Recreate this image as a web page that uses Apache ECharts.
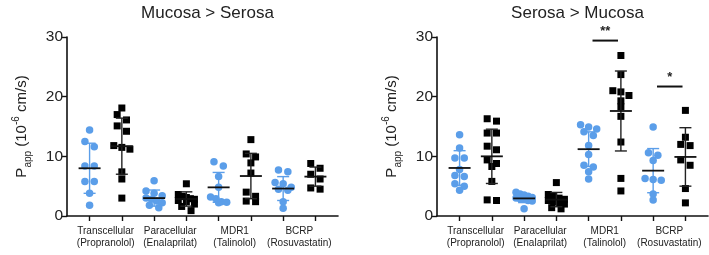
<!DOCTYPE html>
<html>
<head>
<meta charset="utf-8">
<script src="https://cdn.jsdelivr.net/npm/echarts@6/dist/echarts.min.js"></script>
<style>
  html, body { margin: 0; padding: 0; background: #fff; }
  #chart { width: 709px; height: 255px; }
</style>
</head>
<body>
<div id="chart"></div>
<script>
const panelTitles = ['Mucosa > Serosa', 'Serosa > Mucosa'];
const transporters = ['Transcellular\n(Propranolol)', 'Paracellular\n(Enalaprilat)', 'MDR1\n(Talinolol)', 'BCRP\n(Rosuvastatin)'];
const yTicks = [0, 10, 20, 30];

// Mucosa > Serosa, per group (blue circles / black squares)
const msTransBlue = [14.4, 12.5, 11.6, 8.4, 8.4, 5.8, 5.8, 3.8, 1.8];
const msTransBlack = [18.1, 17.0, 16.1, 15.1, 14.2, 11.8, 11.5, 11.2, 7.4, 6.2, 3.0];
const msParaBlue = [5.9, 4.2, 3.8, 3.4, 3.0, 2.8, 2.5, 2.2, 1.8, 1.4];
const msParaBlack = [5.4, 3.6, 3.3, 3.1, 2.9, 2.8, 2.6, 2.4, 2.0, 1.6, 0.9];
const msMdrBlue = [9.1, 8.4, 6.6, 4.8, 3.2, 2.9, 2.4, 2.3, 2.2];
const msMdrBlack = [12.8, 10.4, 9.9, 8.9, 7.2, 4.0, 3.3, 2.5, 2.4];
const msBcrpBlue = [7.7, 7.4, 5.6, 5.4, 4.8, 4.5, 4.3, 2.4, 1.3];
const msBcrpBlack = [8.8, 8.0, 7.0, 6.2, 4.7, 4.5];
const msMean = [8.0, 11.7, 3.0, 2.85, 4.8, 6.7, 4.6, 6.6];
const msSd = [4.2, 4.7, 1.35, 1.2, 2.5, 3.8, 2.0, 1.6];

// Serosa > Mucosa
const smTransBlue = [13.6, 11.4, 9.7, 9.7, 7.8, 6.8, 6.6, 5.4, 5.0, 4.3];
const smTransBlack = [16.3, 15.9, 13.9, 13.9, 11.7, 11.1, 9.4, 8.8, 8.3, 5.8, 2.7, 2.6];
const smParaBlue = [4.0, 3.7, 3.5, 3.3, 3.1, 3.0, 2.9, 2.8, 2.6, 2.5, 1.2];
const smParaBlack = [5.6, 3.6, 3.3, 3.0, 2.8, 2.6, 2.4, 2.1, 2.0, 1.4, 1.2];
const smMdrBlue = [15.3, 14.9, 14.6, 14.1, 13.5, 11.8, 10.3, 8.5, 8.2, 7.4, 6.2];
const smMdrBlack = [26.9, 23.7, 21.0, 20.8, 20.2, 19.3, 18.3, 16.7, 12.4, 6.3, 4.2];
const smBcrpBlue = [14.9, 10.6, 10.2, 9.3, 6.3, 6.1, 6.0, 3.7, 2.7];
const smBcrpBlack = [17.7, 13.2, 12.0, 11.8, 9.4, 8.5, 4.6, 2.2];
const smMean = [8.05, 10.0, 2.95, 2.75, 11.2, 17.6, 7.6, 9.9];
const smSd = [2.9, 4.55, 0.7, 1.2, 2.9, 6.7, 3.7, 4.9];

// significance bars on the right panel: [from group, to group, y, text]
const smSig = [[4, 5, 29.4, '**'], [6, 7, 21.7, '*']];

const BLUE = '#5b9ee9';
const FONT = 'Liberation Sans, Arial, sans-serif';

// GraphPad-like scatter: values that sit within one marker height share a row,
// and each row is spread symmetrically around the group centre
function swarm(values, gx) {
  const rowTol = 0.95;
  const out = [];
  let i = 0;
  while (i < values.length) {
    let j = i + 1;
    while (j < values.length && Math.abs(values[i] - values[j]) <= rowTol) j++;
    const n = j - i;
    const step = n > 1 ? Math.min(0.29, 0.5 / (n - 1)) : 0;
    for (let k = 0; k < n; k++) {
      out.push([gx + (k - (n - 1) / 2) * step, values[i + k]]);
    }
    i = j;
  }
  return out;
}

const panels = [
  { groups: [msTransBlue, msTransBlack, msParaBlue, msParaBlack, msMdrBlue, msMdrBlack, msBcrpBlue, msBcrpBlack], mean: msMean, sd: msSd, sig: [] },
  { groups: [smTransBlue, smTransBlack, smParaBlue, smParaBlack, smMdrBlue, smMdrBlack, smBcrpBlue, smBcrpBlack], mean: smMean, sd: smSd, sig: smSig }
];

const chart = echarts.init(document.getElementById('chart'));

const grids = [
  { left: 67, top: 37, width: 271, height: 179, outerBoundsMode: 'none', containLabel: false },
  { left: 437, top: 37, width: 271, height: 179, outerBoundsMode: 'none', containLabel: false }
];

const xAxes = grids.map((g, i) => ({
  type: 'value', gridIndex: i, min: -0.7, max: 7.7,
  splitLine: { show: false },
  axisLine: { onZero: false, lineStyle: { color: '#111', width: 1.6 } },
  axisTick: { show: true, length: 5, lineStyle: { color: '#111', width: 1.4 }, customValues: [0, 1, 2, 3, 4, 5, 6, 7] },
  axisLabel: {
    customValues: [0.5, 2.5, 4.5, 6.5],
    formatter: v => transporters[Math.round((v - 0.5) / 2)],
    fontSize: 10, lineHeight: 12, color: '#222', fontFamily: FONT, margin: 9
  }
}));

const yAxes = grids.map((g, i) => ({
  type: 'value', gridIndex: i, min: 0, max: 30, interval: 10,
  splitLine: { show: false },
  axisLine: { show: true, onZero: false, lineStyle: { color: '#111', width: 1.6 } },
  axisTick: { show: true, length: 5, lineStyle: { color: '#111', width: 1.4 } },
  axisLabel: { fontSize: 15.5, color: '#222', fontFamily: FONT, margin: 4,
    formatter: v => yTicks.includes(v) ? String(v) : '' },
  name: '{n|P}{sub|app}{n| (10}{sup|-6}{n| cm/s)}',
  nameLocation: 'middle', nameRotate: 90, nameGap: 34,
  nameTextStyle: {
    fontFamily: FONT, color: '#222',
    rich: {
      n: { fontSize: 15, lineHeight: 22, fontFamily: FONT, color: '#222' },
      sub: { fontSize: 10, lineHeight: 13, verticalAlign: 'bottom', fontFamily: FONT, color: '#222' },
      sup: { fontSize: 10, lineHeight: 13, verticalAlign: 'top', fontFamily: FONT, color: '#222' }
    }
  }
}));

const series = [];
panels.forEach((p, pi) => {
  p.groups.forEach((vals, gi) => {
    const isBlue = gi % 2 === 0;
    series.push({
      type: 'scatter', xAxisIndex: pi, yAxisIndex: pi,
      symbol: isBlue ? 'circle' : 'rect',
      symbolSize: isBlue ? 7.5 : 7,
      itemStyle: { color: isBlue ? BLUE : '#000', opacity: 1 },
      data: swarm(vals, gi), z: 2, silent: true
    });
  });
  // mean +/- SD
  series.push({
    type: 'custom', xAxisIndex: pi, yAxisIndex: pi, z: 3, silent: true,
    data: p.mean.map((m, gi) => [gi, m, p.sd[gi]]),
    renderItem: (params, api) => {
      const gx = api.value(0), m = api.value(1), s = api.value(2);
      const c = api.coord([gx, m]);
      const top = api.coord([gx, m + s]);
      const bot = api.coord([gx, m - s]);
      const errCol = gx % 2 === 0 ? BLUE : '#222';
      const st = { stroke: errCol, lineWidth: 1.4 };
      return {
        type: 'group',
        children: [
          { type: 'line', shape: { x1: c[0], y1: top[1], x2: c[0], y2: bot[1] }, style: st },
          { type: 'line', shape: { x1: c[0] - 6, y1: top[1], x2: c[0] + 6, y2: top[1] }, style: st },
          { type: 'line', shape: { x1: c[0] - 6, y1: bot[1], x2: c[0] + 6, y2: bot[1] }, style: st },
          { type: 'line', shape: { x1: c[0] - 11, y1: c[1], x2: c[0] + 11, y2: c[1] }, style: { stroke: '#111', lineWidth: 1.8 } }
        ]
      };
    }
  });
  if (p.sig.length) {
    series.push({
      type: 'custom', xAxisIndex: pi, yAxisIndex: pi, z: 3, silent: true,
      data: p.sig.map(s => [s[0], s[1], s[2]]),
      renderItem: (params, api) => {
        const a = api.coord([api.value(0) + 0.12, api.value(2)]);
        const b = api.coord([api.value(1) - 0.09, api.value(2)]);
        return {
          type: 'group',
          children: [
            { type: 'line', shape: { x1: a[0], y1: a[1], x2: b[0], y2: b[1] }, style: { stroke: '#111', lineWidth: 2 } },
            { type: 'text', style: { text: p.sig[params.dataIndex][3], x: (a[0] + b[0]) / 2, y: a[1] - 3,
              align: 'center', verticalAlign: 'bottom', font: 'bold 13px ' + FONT, fill: '#222' } }
          ]
        };
      }
    });
  }
});

chart.setOption({
  animation: false,
  backgroundColor: '#fff',
  title: panelTitles.map((t, i) => ({
    text: t, left: grids[i].left + grids[i].width / 2, top: 0, textAlign: 'center',
    textStyle: { fontSize: 17, fontWeight: 'normal', color: '#222', fontFamily: FONT }
  })),
  grid: grids,
  xAxis: xAxes,
  yAxis: yAxes,
  series: series
});
</script>
</body>
</html>
